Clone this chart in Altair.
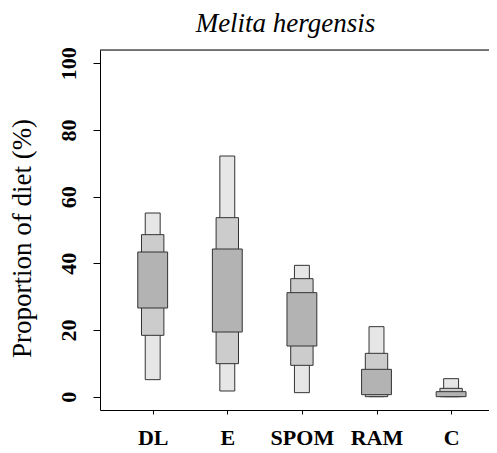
import altair as alt
import pandas as pd

categories = ["DL", "E", "SPOM", "RAM", "C"]
positions = [1, 2, 3, 4, 5]
# credible intervals (%) : 95%, 75%, 50%
lo95 = [5.1, 1.7, 1.2, 0.0, 0.0]
hi95 = [55.1, 72.2, 39.4, 21.0, 5.4]
lo75 = [18.4, 9.9, 9.4, 0.0, 0.0]
hi75 = [48.6, 53.7, 35.4, 13.0, 2.5]
lo50 = [26.6, 19.4, 15.2, 0.6, 0.0]
hi50 = [43.4, 44.3, 31.2, 8.2, 1.5]

levels = ["95%", "75%", "50%"]
halfw = {"95%": 0.1, "75%": 0.15, "50%": 0.2}
fills = {"95%": "#e6e6e6", "75%": "#cccccc", "50%": "#b3b3b3"}

rows = []
for lvl, lo, hi in zip(levels, [lo95, lo75, lo50], [hi95, hi75, hi50]):
    for i, c in enumerate(categories):
        rows.append({"cat": c, "pos": positions[i], "level": lvl,
                     "lo": lo[i], "hi": hi[i], "hw": halfw[lvl],
                     "order": levels.index(lvl)})
df = pd.DataFrame(rows)

W, H = 389, 360
XD = [0.2936, 5.508]
YD = [-4, 104]
FONT = "Liberation Serif"

label_expr = "{1:'DL',2:'E',3:'SPOM',4:'RAM',5:'C'}[datum.value]"

xscale = alt.Scale(domain=XD, nice=False, zero=False)
yscale = alt.Scale(domain=YD, nice=False, zero=False)

boxes = alt.Chart(df).transform_calculate(
    x0="datum.pos - datum.hw", x1="datum.pos + datum.hw"
).mark_rect(stroke="#333333", strokeWidth=1).encode(
    x=alt.X("x0:Q", scale=xscale,
            axis=alt.Axis(values=positions, labelExpr=label_expr, title=None,
                          grid=False, tickSize=4, tickColor="black",
                          domainColor="black", labelFont=FONT, labelFontSize=22,
                          labelFontWeight="bold", labelColor="black",
                          labelBaseline="middle", labelPadding=23, labelFlush=False)),
    x2="x1:Q",
    y=alt.Y("lo:Q", scale=yscale,
            axis=alt.Axis(values=[0, 20, 40, 60, 80, 100], grid=False,
                          title="Proportion of diet (%)", titleFont=FONT,
                          titleFontSize=27, titleFontWeight="normal",
                          titleColor="black", titleAngle=270,
                          titleX=-78, titleY=188, titleAlign="center",
                          titleBaseline="middle",
                          tickSize=7, tickColor="black", domainColor="black",
                          labelFont=FONT, labelFontSize=22, labelFontWeight="bold",
                          labelColor="black", labelAngle=270, labelAlign="center",
                          labelBaseline="middle", labelPadding=25, labelFlush=False)),
    y2="hi:Q",
    fill=alt.Fill("level:N", scale=alt.Scale(domain=levels,
                                             range=[fills[l] for l in levels]),
                  legend=None),
    order=alt.Order("order:Q"),
)

top = alt.Chart(pd.DataFrame({"a": [0]})).mark_rule(color="black", strokeWidth=1).encode(
    y=alt.value(0), x=alt.value(0), x2=alt.value(W)
)

chart = alt.layer(boxes, top).properties(
    width=W, height=H,
    title=alt.Title("Melita hergensis", font=FONT, fontSize=27, fontStyle="italic",
                    fontWeight="normal", color="black", anchor="middle", dx=-9,
                    offset=9),
    autosize=alt.AutoSizeParams(type="none"),
    padding={"left": 92, "top": 42, "right": 0, "bottom": 45},
).configure_view(stroke=None).configure(background="white")

chart.save("out.html", embed_options={"renderer": "svg", "actions": False})
